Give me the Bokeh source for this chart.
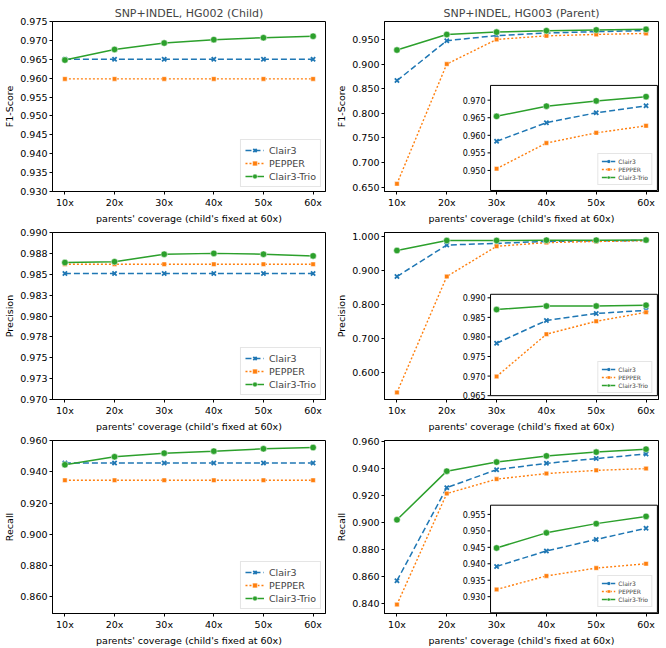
from bokeh.plotting import figure
from bokeh.layouts import gridplot
from bokeh.models import (Range1d, FixedTicker, CustomJSTickFormatter, Legend, LegendItem,
                          LabelSet, ColumnDataSource)
from bokeh.embed import file_html
from bokeh.resources import INLINE
from bokeh.core.properties import value

# ---------------- data ----------------
coverage = [10, 20, 30, 40, 50, 60]
coverage_labels = ["10x", "20x", "30x", "40x", "50x", "60x"]
inset_coverage = [30, 40, 50, 60]
methods = ["Clair3", "PEPPER", "Clair3-Trio"]
x_label = "parents' coverage (child's fixed at 60x)"

# F1-score
f1_child_clair3 = [0.9650, 0.9650, 0.9650, 0.9650, 0.9650, 0.9650]
f1_child_pepper = [0.9598, 0.9598, 0.9598, 0.9598, 0.9598, 0.9598]
f1_child_trio = [0.9648, 0.9676, 0.9693, 0.9702, 0.9707, 0.9711]
f1_parent_clair3 = [0.8667, 0.9480, 0.9583, 0.9636, 0.9664, 0.9684]
f1_parent_pepper = [0.6566, 0.9004, 0.9505, 0.9578, 0.9607, 0.9627]
f1_parent_trio = [0.9289, 0.9606, 0.9654, 0.9683, 0.9698, 0.9710]

# Precision
prec_child_clair3 = [0.9851, 0.9851, 0.9851, 0.9851, 0.9851, 0.9851]
prec_child_pepper = [0.9862, 0.9862, 0.9862, 0.9862, 0.9862, 0.9862]
prec_child_trio = [0.9864, 0.9865, 0.9874, 0.9875, 0.9874, 0.9872]
prec_parent_clair3 = [0.8811, 0.9736, 0.9784, 0.9842, 0.9860, 0.9868]
prec_parent_pepper = [0.5406, 0.8811, 0.9699, 0.9807, 0.9840, 0.9863]
prec_parent_trio = [0.9575, 0.9868, 0.9870, 0.9879, 0.9879, 0.9881]

# Recall
rec_child_clair3 = [0.9456, 0.9456, 0.9456, 0.9456, 0.9456, 0.9456]
rec_child_pepper = [0.9346, 0.9346, 0.9346, 0.9346, 0.9346, 0.9346]
rec_child_trio = [0.9445, 0.9496, 0.9519, 0.9532, 0.9547, 0.9555]
rec_parent_clair3 = [0.8570, 0.9259, 0.9392, 0.9439, 0.9474, 0.9508]
rec_parent_pepper = [0.8393, 0.9215, 0.9322, 0.9363, 0.9387, 0.9400]
rec_parent_trio = [0.9021, 0.9381, 0.9448, 0.9494, 0.9522, 0.9544]

# axis limits and tick values
f1_child_ylim = [0.930, 0.975]
f1_child_yticks = [0.930, 0.935, 0.940, 0.945, 0.950, 0.955, 0.960, 0.965, 0.970, 0.975]
f1_parent_ylim = [0.641, 0.987]
f1_parent_yticks = [0.650, 0.700, 0.750, 0.800, 0.850, 0.900, 0.950]
f1_parent_inset_ylim = [0.9443, 0.9742]
f1_parent_inset_yticks = [0.950, 0.955, 0.960, 0.965, 0.970]

prec_child_ylim = [0.970, 0.990]
prec_child_yticks = [0.970, 0.9725, 0.975, 0.9775, 0.980, 0.9825, 0.985, 0.9875, 0.990]
prec_parent_ylim = [0.5198, 1.0104]
prec_parent_yticks = [0.600, 0.700, 0.800, 0.900, 1.000]
prec_parent_inset_ylim = [0.9650, 0.9909]
prec_parent_inset_yticks = [0.965, 0.970, 0.975, 0.980, 0.985, 0.990]

rec_child_ylim = [0.8494, 0.9600]
rec_child_yticks = [0.860, 0.880, 0.900, 0.920, 0.940, 0.960]
rec_parent_ylim = [0.8327, 0.9608]
rec_parent_yticks = [0.840, 0.860, 0.880, 0.900, 0.920, 0.940, 0.960]
rec_parent_inset_ylim = [0.9251, 0.9578]
rec_parent_inset_yticks = [0.930, 0.935, 0.940, 0.945, 0.950, 0.955]

# ---------------- style ----------------
FONT = "DejaVu Sans"
STYLE = {
    "Clair3": dict(color="#1f77b4", dash="6 3", marker="x", size=6, lw=1.5),
    "PEPPER": dict(color="#ff7f0e", dash="2 2", marker="square", size=4.5, lw=1.4),
    "Clair3-Trio": dict(color="#2ca02c", dash="solid", marker="circle", size=6.5, lw=1.5),
}
INSET_X_FRAC = (0.387, 0.996)


def draw_series(p, xs, ys, m, range_name="default"):
    s = STYLE[m]
    ln = p.line(xs, ys, line_color=s["color"], line_width=s["lw"], line_dash=s["dash"],
                y_range_name=range_name)
    if s["marker"] == "x":
        sc = p.scatter(xs, ys, marker="x", size=s["size"], line_color=s["color"],
                       line_width=1.8, y_range_name=range_name)
    else:
        sc = p.scatter(xs, ys, marker=s["marker"], size=s["size"], fill_color=s["color"],
                       line_color="white", line_width=0.5, y_range_name=range_name)
    return ln, sc


def make_legend(items, small=False):
    if small:
        return Legend(items=items, location="bottom_right", label_text_font=FONT,
                      label_text_font_size="6px", glyph_width=14, glyph_height=8,
                      label_height=8, spacing=0, padding=3, margin=6, label_standoff=3,
                      border_line_color="#cccccc", background_fill_alpha=0.9)
    return Legend(items=items, location="bottom_right", label_text_font=FONT,
                  label_text_font_size="9.5px", glyph_width=19, glyph_height=12,
                  label_height=12, spacing=1, padding=4, margin=4, label_standoff=5,
                  border_line_color="#cccccc", background_fill_alpha=0.9)


def make_panel(series, ylim, yticks, ylabel, title, width, height, borders,
               inset=None, main_legend=False):
    pad = 0.05 * (max(coverage) - min(coverage))
    x0, x1 = min(coverage) - pad, max(coverage) + pad
    p = figure(width=width, height=height, x_range=Range1d(x0, x1),
               y_range=Range1d(ylim[0], ylim[1]), output_backend="svg",
               toolbar_location=None, min_border_left=borders[0],
               min_border_right=borders[1], min_border_top=borders[2],
               min_border_bottom=borders[3], background_fill_color="white",
               border_fill_color="white")
    p.xgrid.visible = False
    p.ygrid.visible = False
    p.outline_line_color = "black"
    p.outline_line_alpha = 1
    p.outline_line_width = 1

    p.xaxis.ticker = FixedTicker(ticks=coverage)
    p.xaxis.major_label_overrides = {c: l for c, l in zip(coverage, coverage_labels)}
    p.yaxis.ticker = FixedTicker(ticks=yticks)
    p.yaxis.formatter = CustomJSTickFormatter(code="return tick.toFixed(3);")
    p.xaxis.axis_label = x_label
    p.yaxis.axis_label = ylabel
    for ax in (p.xaxis[0], p.yaxis[0]):
        ax.minor_tick_line_color = None
        ax.major_tick_in = 0
        ax.major_tick_out = 3
        ax.axis_line_color = "black"
        ax.major_tick_line_color = "black"
        ax.major_label_text_font = FONT
        ax.major_label_text_font_size = "9.5px"
        ax.major_label_text_color = "black"
        ax.axis_label_text_font = FONT
        ax.axis_label_text_font_size = "9.5px"
        ax.axis_label_text_font_style = "normal"
        ax.axis_label_text_color = "black"
        ax.major_label_standoff = 2
        ax.axis_label_standoff = 2

    if title:
        p.title.text = title
        p.title.align = "center"
        p.title.text_font = FONT
        p.title.text_font_size = "11px"
        p.title.text_font_style = "normal"
        p.title.standoff = 3

    items = []
    for m, ys in zip(methods, series):
        ln, sc = draw_series(p, coverage, ys, m)
        items.append(LegendItem(label=m, renderers=[ln, sc]))
    if main_legend:
        p.add_layout(make_legend(items), "center")

    if inset is not None:
        ilim, iticks, yfrac = inset
        lo, hi = ilim
        span = (hi - lo) / (yfrac[1] - yfrac[0])
        start = lo - yfrac[0] * span
        p.extra_y_ranges = {"inset": Range1d(start, start + span)}
        xl = x0 + INSET_X_FRAC[0] * (x1 - x0)
        xr = x0 + INSET_X_FRAC[1] * (x1 - x0)
        p.quad(left=xl, right=xr, bottom=lo, top=hi, y_range_name="inset",
               fill_color="white", line_color="black", line_width=1)
        tick_len = 0.6
        n = len(iticks)
        p.segment(x0=[xl - tick_len] * n, y0=iticks, x1=[xl] * n, y1=iticks,
                  y_range_name="inset", line_color="black", line_width=1)
        src = ColumnDataSource(dict(x=[xl] * n, y=iticks,
                                    text=[f"{t:.3f}" for t in iticks]))
        p.add_layout(LabelSet(x="x", y="y", text="text", source=src, y_range_name="inset",
                              x_offset=-5, text_align="right", text_baseline="middle",
                              text_font=value(FONT), text_font_size="8px",
                              text_color="black"))
        iitems = []
        for m, ys in zip(methods, series):
            ln, sc = draw_series(p, inset_coverage, ys[2:], m, range_name="inset")
            iitems.append(LegendItem(label=m, renderers=[ln, sc]))
        p.add_layout(make_legend(iitems, small=True), "center")
    return p


LW, RW = 333, 333
LB = (52, 8)
RB = (51, 8)
H1, H2, H3 = 226, 208, 214
T1, T2 = 21, 6
B1, B2, B3 = 32, 30, 35

p1 = make_panel((f1_child_clair3, f1_child_pepper, f1_child_trio), f1_child_ylim,
                f1_child_yticks, "F1-Score", "SNP+INDEL, HG002 (Child)", LW, H1,
                (LB[0], LB[1], T1, B1), main_legend=True)
p2 = make_panel((f1_parent_clair3, f1_parent_pepper, f1_parent_trio), f1_parent_ylim,
                f1_parent_yticks, "F1-Score", "SNP+INDEL, HG003 (Parent)", RW, H1,
                (RB[0], RB[1], T1, B1),
                inset=(f1_parent_inset_ylim, f1_parent_inset_yticks, (0.006, 0.624)))
p3 = make_panel((prec_child_clair3, prec_child_pepper, prec_child_trio), prec_child_ylim,
                prec_child_yticks, "Precision", None, LW, H2,
                (LB[0], LB[1], T2, B2), main_legend=True)
p4 = make_panel((prec_parent_clair3, prec_parent_pepper, prec_parent_trio), prec_parent_ylim,
                prec_parent_yticks, "Precision", None, RW, H2,
                (RB[0], RB[1], T2, B2),
                inset=(prec_parent_inset_ylim, prec_parent_inset_yticks, (0.023, 0.630)))
p5 = make_panel((rec_child_clair3, rec_child_pepper, rec_child_trio), rec_child_ylim,
                rec_child_yticks, "Recall", None, LW, H3,
                (LB[0], LB[1], T2, B3), main_legend=True)
p6 = make_panel((rec_parent_clair3, rec_parent_pepper, rec_parent_trio), rec_parent_ylim,
                rec_parent_yticks, "Recall", None, RW, H3,
                (RB[0], RB[1], T2, B3),
                inset=(rec_parent_inset_ylim, rec_parent_inset_yticks, (0.004, 0.626)))

grid = gridplot([[p1, p2], [p3, p4], [p5, p6]], toolbar_location=None)

open("out.html", "w").write(file_html(grid, INLINE))
